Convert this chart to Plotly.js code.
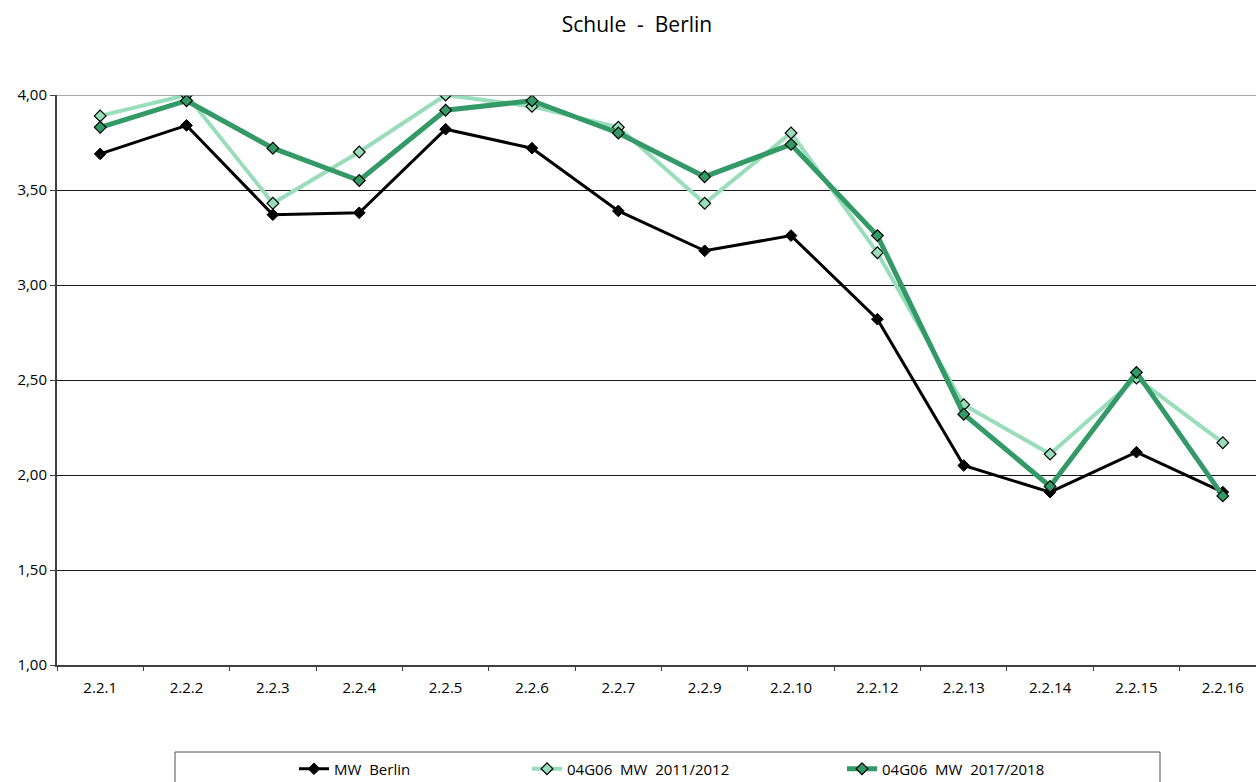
<!DOCTYPE html>
<html>
<head>
<meta charset="utf-8">
<script src="https://cdn.plot.ly/plotly-3.0.1.min.js"></script>
<style>
  html, body { margin: 0; padding: 0; overflow: hidden; background: #fff; }
  #chart { width: 1300px; height: 782px; }
</style>
</head>
<body>
<div id="chart"></div>
<script>
// Item codes along the x axis
const categories = ['2.2.1','2.2.2','2.2.3','2.2.4','2.2.5','2.2.6','2.2.7','2.2.9','2.2.10','2.2.12','2.2.13','2.2.14','2.2.15','2.2.16'];

// Mean values per item
const mwBerlin  = [3.69, 3.84, 3.37, 3.38, 3.82, 3.72, 3.39, 3.18, 3.26, 2.82, 2.05, 1.91, 2.12, 1.91];
const mw2011    = [3.89, 4.00, 3.43, 3.70, 4.00, 3.94, 3.83, 3.43, 3.80, 3.17, 2.37, 2.11, 2.51, 2.17];
const mw2017    = [3.83, 3.97, 3.72, 3.55, 3.92, 3.97, 3.80, 3.57, 3.74, 3.26, 2.32, 1.94, 2.54, 1.89];

const seriesNames = ['MW  Berlin', '04G06  MW  2011/2012', '04G06  MW  2017/2018'];

// Plot area geometry in pixels (used to convert into paper / container coordinates)
const W = 1300, H = 782;
const L = 57, R = 1266, T = 95, B = 665;
const px = x => (x - L) / (R - L);
const py = y => (B - y) / (B - T);
const cx = x => x / W;
const cy = y => 1 - y / H;

const font = 'Open Sans, Noto Sans, sans-serif';

const traces = [
  {
    x: categories, y: mwBerlin, name: seriesNames[0], type: 'scatter', mode: 'lines+markers',
    line: { color: '#000000', width: 3 },
    marker: { symbol: 'diamond', size: 9, color: '#000000', line: { color: '#000000', width: 1 } },
    legend: 'legend'
  },
  {
    x: categories, y: mw2011, name: seriesNames[1], type: 'scatter', mode: 'lines+markers',
    line: { color: '#99DDBB', width: 4 },
    marker: { symbol: 'diamond', size: 9, color: '#99DDBB', line: { color: '#000000', width: 1.2 } },
    legend: 'legend2'
  },
  {
    x: categories, y: mw2017, name: seriesNames[2], type: 'scatter', mode: 'lines+markers',
    line: { color: '#339966', width: 5 },
    marker: { symbol: 'diamond', size: 9, color: '#339966', line: { color: '#000000', width: 1.2 } },
    legend: 'legend3'
  }
];

const legendBase = {
  orientation: 'h', yanchor: 'middle', xanchor: 'left',
  xref: 'container', yref: 'container',
  bgcolor: 'rgba(0,0,0,0)', borderwidth: 0,
  font: { family: font, size: 15, color: '#000' },
  itemwidth: 30
};

const layout = {
  width: W, height: H,
  margin: { l: L, r: W - R, t: T, b: H - B, pad: 0, autoexpand: false },
  paper_bgcolor: '#ffffff', plot_bgcolor: '#ffffff',
  separators: ',.',
  font: { family: font, size: 15, color: '#000' },
  title: {
    text: 'Schule  -  Berlin',
    font: { family: font, size: 21, color: '#000' },
    xref: 'container', x: 637 / W, xanchor: 'center',
    yref: 'container', y: cy(25), yanchor: 'middle'
  },
  xaxis: {
    type: 'category', range: [-0.5, 13.5],
    showline: true, linecolor: '#404040', linewidth: 2,
    ticks: 'outside', tickson: 'boundaries', ticklen: 4, tickcolor: '#404040', tickwidth: 1,
    ticklabelstandoff: 8,
    showgrid: false, zeroline: false,
    tickfont: { family: font, size: 15, color: '#000' }, fixedrange: true
  },
  yaxis: {
    range: [1, 4], dtick: 0.5, tick0: 1, tickformat: '.2f',
    showline: true, linecolor: '#404040', linewidth: 2,
    ticks: 'outside', ticklen: 5, tickcolor: '#404040',
    showgrid: true, gridcolor: '#1a1a1a', gridwidth: 1, zeroline: false,
    tickfont: { family: font, size: 15, color: '#000' }, fixedrange: true
  },
  showlegend: true,
  legend:  Object.assign({}, legendBase, { x: cx(294), y: cy(769) }),
  legend2: Object.assign({}, legendBase, { x: cx(527), y: cy(769) }),
  legend3: Object.assign({}, legendBase, { x: cx(842), y: cy(769) }),
  shapes: [
    // upper border of the plot area at 4,00
    { type: 'line', xref: 'paper', yref: 'y', x0: 0, x1: 1, y0: 4, y1: 4,
      line: { color: '#8c8c8c', width: 1.5 } },
    // legend frame
    { type: 'rect', xref: 'paper', yref: 'paper',
      x0: px(175), x1: px(1160), y0: py(800), y1: py(752),
      line: { color: '#4d4d4d', width: 1 }, fillcolor: 'rgba(0,0,0,0)' }
  ]
};

Plotly.newPlot('chart', traces, layout, { displayModeBar: false, staticPlot: true });
</script>
</body>
</html>
